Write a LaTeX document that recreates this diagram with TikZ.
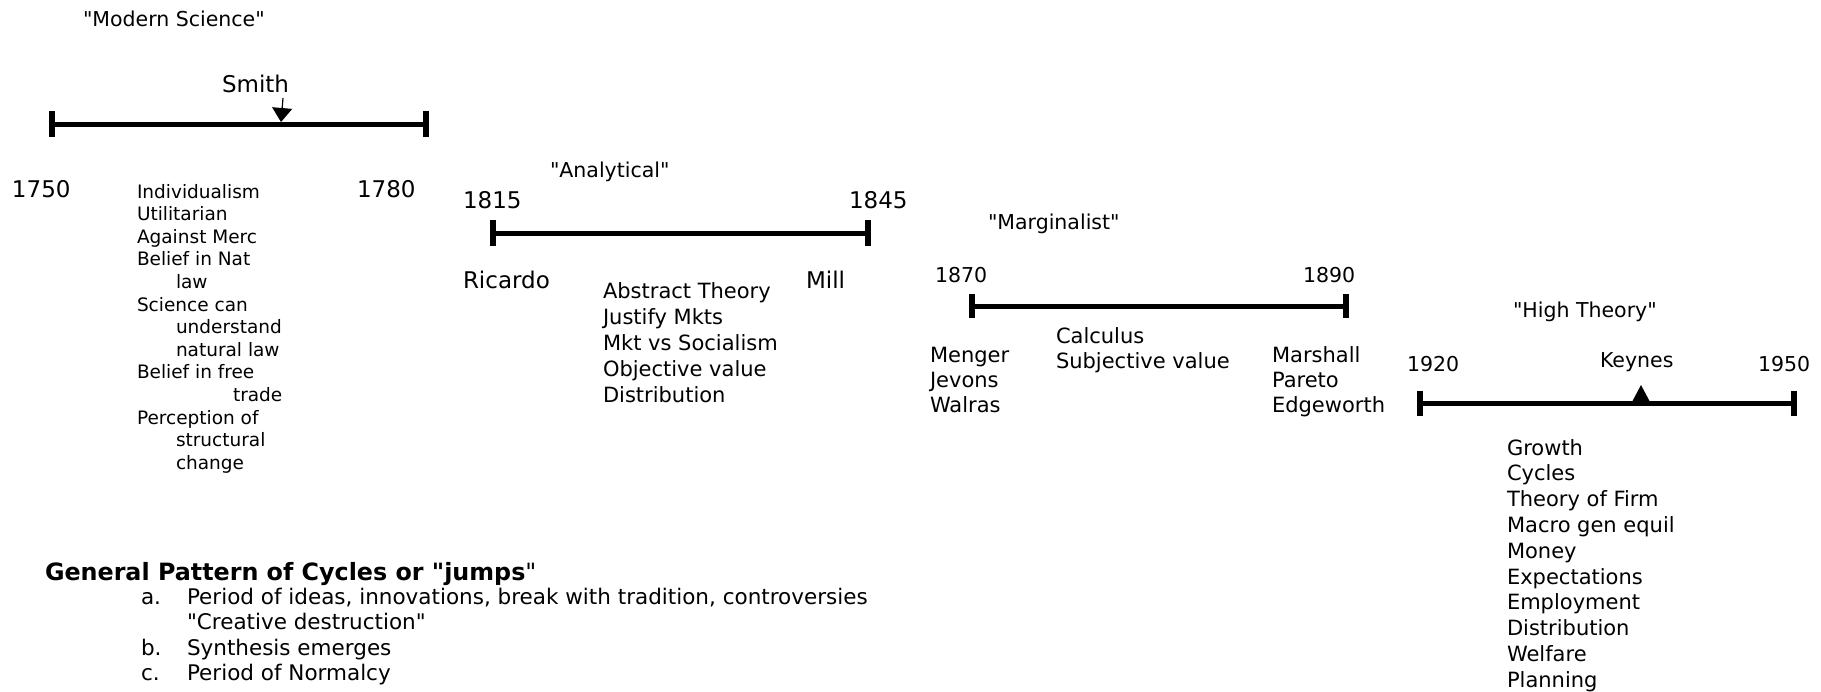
\documentclass[tikz,border=0pt]{standalone}
\usepackage{fontspec}
\setmainfont{DejaVu Sans}[Ligatures=TeXOff]
\usetikzlibrary{arrows.meta}
\begin{document}
\begin{tikzpicture}[x=1pt,y=-1pt,
  lbl/.style={inner sep=0pt, outer sep=0pt, anchor=base west},
  fa/.style={font=\fontsize{18.5}{22}\selectfont},
  fb/.style={font=\fontsize{21.5}{25}\selectfont},
  fc/.style={font=\fontsize{20.5}{24}\selectfont},
  fd/.style={font=\fontsize{21}{25}\selectfont},
  fe/.style={font=\fontsize{23}{27}\selectfont},
  fh/.style={font=\fontsize{23.8}{28}\selectfont},
  bar/.style={line width=5pt},
  tickbar/.style={line width=6pt}]
\useasboundingbox (0,0) rectangle (1821,691);

% ---------- timeline 1 ----------
\coordinate (a1) at (52,124);
\coordinate (b1) at (426,124);
\draw[bar] (a1) -- ([xshift=3pt]b1);
\draw[tickbar] ([yshift=13pt]a1) -- ([yshift=-13pt]a1);
\draw[tickbar] ([yshift=13pt]b1) -- ([yshift=-13pt]b1);
\node[lbl,fc] (ms) at (83,26) {"Modern Science"};
\node[lbl,fe] (smith) at (222,92) {Smith};
\coordinate (sA) at (283,98);
\coordinate (sB) at (281,122);
\draw[line width=1.2pt, -{Triangle[width=20pt,length=14pt]}] (sA) -- (sB);
\node[lbl,fe] (y1750) at (12,197) {1750};
\node[lbl,fe] (y1780) at (357,197) {1780};
\foreach \x/\t [count=\i] in {137/Individualism, 137/Utilitarian, 137/Against Merc,
  137/Belief in Nat, 176/law, 137/Science can, 176/understand, 176/natural law,
  137/Belief in free, 233/trade, 137/Perception of, 176/structural, 176/change}
  \node[lbl,fa] (l1-\i) at (\x,{198+22.6*(\i-1)}) {\t};

% ---------- timeline 2 ----------
\coordinate (a2) at (493,233);
\coordinate (b2) at (868,233);
\draw[bar] (a2) -- (b2);
\draw[tickbar] ([yshift=13pt]a2) -- ([yshift=-13pt]a2);
\draw[tickbar] ([yshift=13pt]b2) -- ([yshift=-13pt]b2);
\node[lbl,fc] (an) at (550,177) {"Analytical"};
\node[lbl,fe] (y1815) at (463,208) {1815};
\node[lbl,fe] (y1845) at (849,208) {1845};
\node[lbl,fe] (ric) at (463,288) {Ricardo};
\node[lbl,fe] (mill) at (806,288) {Mill};
\foreach \t [count=\i] in {Abstract Theory, Justify Mkts, Mkt vs Socialism,
  Objective value, Distribution}
  \node[lbl,fd] (l2-\i) at (603,{298+26*(\i-1)}) {\t};

% ---------- timeline 3 ----------
\coordinate (a3) at (972,306);
\coordinate (b3) at (1346,306);
\draw[bar] (a3) -- (b3);
\draw[tickbar] ([yshift=12pt]a3) -- ([yshift=-12pt]a3);
\draw[tickbar] ([yshift=12pt]b3) -- ([yshift=-12pt]b3);
\node[lbl,fc] (mg) at (988,229) {"Marginalist"};
\node[lbl,fc] (y1870) at (935,282) {1870};
\node[lbl,fc] (y1890) at (1303,282) {1890};
\node[lbl,fd] (calc) at (1056,343) {Calculus};
\node[lbl,fd] (subj) at (1056,368) {Subjective value};
\foreach \t [count=\i] in {Menger, Jevons, Walras}
  \node[lbl,fd] (l3a-\i) at (930,{362+25*(\i-1)}) {\t};
\foreach \t [count=\i] in {Marshall, Pareto, Edgeworth}
  \node[lbl,fd] (l3b-\i) at (1272,{362+25*(\i-1)}) {\t};

% ---------- timeline 4 ----------
\coordinate (a4) at (1420,403);
\coordinate (b4) at (1794,403);
\draw[bar] (a4) -- (b4);
\draw[tickbar] ([yshift=12.5pt]a4) -- ([yshift=-12.5pt]a4);
\draw[tickbar] ([yshift=12.5pt]b4) -- ([yshift=-12.5pt]b4);
\node[lbl,fc] (ht) at (1513,317) {"High Theory"};
\node[lbl,fc] (y1920) at (1407,371) {1920};
\node[lbl,fc] (y1950) at (1758,371) {1950};
\node[lbl,fc] (keynes) at (1600,367) {Keynes};
\coordinate (kt) at (1641,385);
\fill (kt) -- ++(-8.5,16) -- ++(17,0) -- cycle;
\foreach \t [count=\i] in {Growth, Cycles, Theory of Firm, Macro gen equil, Money,
  Expectations, Employment, Distribution, Welfare, Planning}
  \node[lbl,fd] (l4-\i) at (1507,{455+25.8*(\i-1)}) {\t};

% ---------- general pattern ----------
\node[lbl,fh] (gp) at (45,580) {\textbf{General Pattern of Cycles or "jumps}"};
\node[lbl,fb] (pa) at (141,604) {a.};
\node[lbl,fb] (pa2) at (187,604) {Period of ideas, innovations, break with tradition, controversies};
\node[lbl,fb] (pa3) at (187,629) {"Creative destruction"};
\node[lbl,fb] (pb) at (141,655) {b.};
\node[lbl,fb] (pb2) at (187,655) {Synthesis emerges};
\node[lbl,fb] (pc) at (141,680) {c.};
\node[lbl,fb] (pc2) at (187,680) {Period of Normalcy};
\end{tikzpicture}
\end{document}
